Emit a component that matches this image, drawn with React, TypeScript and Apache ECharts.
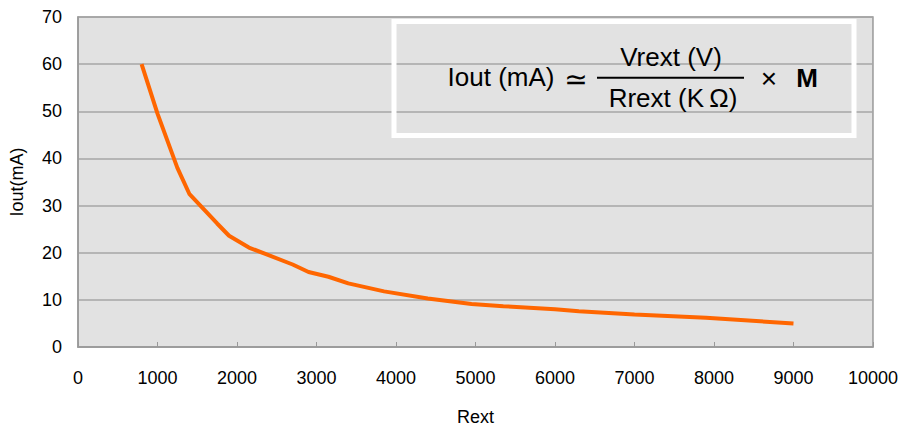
import React, { useEffect, useRef } from "react";
import * as echarts from "echarts";

const rextValues = [800, 1000, 1250, 1400, 1750, 1900, 2150, 2700, 2900, 3150, 3400, 3850, 4400, 4950, 5350, 6000, 6300, 7000, 7900, 9000];
const ioutValues = [60, 49.5, 38, 32.5, 26.2, 23.6, 21.1, 17.5, 15.9, 14.9, 13.5, 11.8, 10.3, 9.1, 8.65, 8.0, 7.6, 6.9, 6.2, 5.0];

const xAxisName = "Rext";
const yAxisName = "Iout(mA)";
const formulaLeft = "Iout (mA)";
const formulaApprox = "\u2243";
const formulaNumerator = "Vrext (V)";
const formulaDenominator = "Rrext (K\u2009\u03A9)";
const formulaTimes = "\u00D7";
const formulaM = "M";

const FONT = "'Liberation Sans', Arial, sans-serif";

export default function App() {
  const ref = useRef<HTMLDivElement>(null);
  useEffect(() => {
    if (!ref.current) return;
    const chart = echarts.init(ref.current, null, { renderer: "svg" });
    const data = rextValues.map((x, i) => [x, ioutValues[i]]);
    const textStyleBase = { fill: "#000", fontFamily: FONT, fontSize: 26, align: "center", verticalAlign: "middle" };
    chart.setOption({
      animation: false,
      backgroundColor: "#fff",
      textStyle: { fontFamily: FONT },
      grid: {
        left: 78,
        right: 28,
        top: 17,
        bottom: 79,
        show: true,
        backgroundColor: "#e2e2e2",
        borderColor: "#999",
        borderWidth: 1.5,
      },
      xAxis: {
        type: "value",
        min: 0,
        max: 10000,
        interval: 1000,
        name: xAxisName,
        nameLocation: "middle",
        nameGap: 61,
        nameTextStyle: { fontSize: 18, color: "#000", fontFamily: FONT },
        axisLine: { show: true, lineStyle: { color: "#999", width: 1.5 } },
        axisTick: { show: true, inside: true, length: 5, lineStyle: { color: "#999", width: 1 } },
        axisLabel: { fontSize: 18, color: "#000", margin: 22, fontFamily: FONT, formatter: (v: number) => String(v) },
        splitLine: { show: false },
      },
      yAxis: {
        type: "value",
        min: 0,
        max: 70,
        interval: 10,
        name: yAxisName,
        nameLocation: "middle",
        nameGap: 52,
        nameTextStyle: { fontSize: 18, color: "#000", fontFamily: FONT },
        axisLine: { show: true, lineStyle: { color: "#999", width: 1.5 } },
        axisTick: { show: false },
        axisLabel: { fontSize: 18, color: "#000", margin: 16, fontFamily: FONT, formatter: (v: number) => String(v) },
        splitLine: { show: true, lineStyle: { color: "#a6a6a6", width: 1.5 } },
      },
      series: [
        {
          type: "line",
          data,
          showSymbol: false,
          smooth: false,
          lineStyle: { color: "#ff6600", width: 4 },
          z: 3,
        },
      ],
      graphic: [
        {
          type: "rect",
          shape: { x: 394, y: 21.5, width: 460, height: 114 },
          style: { fill: "none", stroke: "#fff", lineWidth: 5 },
          z: 10,
        },
        { type: "text", x: 501, y: 77, style: { ...textStyleBase, text: formulaLeft }, z: 11 },
        { type: "text", x: 576, y: 79, style: { ...textStyleBase, fontFamily: "'DejaVu Sans', sans-serif", fontSize: 28, text: formulaApprox }, z: 11 },
        { type: "line", shape: { x1: 597, y1: 77.7, x2: 744, y2: 77.7 }, style: { stroke: "#000", lineWidth: 2 }, z: 11 },
        { type: "text", x: 671, y: 57, style: { ...textStyleBase, text: formulaNumerator }, z: 11 },
        { type: "text", x: 673, y: 98, style: { ...textStyleBase, text: formulaDenominator }, z: 11 },
        { type: "text", x: 769, y: 78, style: { ...textStyleBase, fontSize: 28, text: formulaTimes }, z: 11 },
        { type: "text", x: 807, y: 78, style: { ...textStyleBase, fontWeight: "bold", text: formulaM }, z: 11 },
      ],
    });
    return () => chart.dispose();
  }, []);
  return <div ref={ref} style={{ position: "fixed", left: 0, top: 0, width: 901, height: 431 }} />;
}
